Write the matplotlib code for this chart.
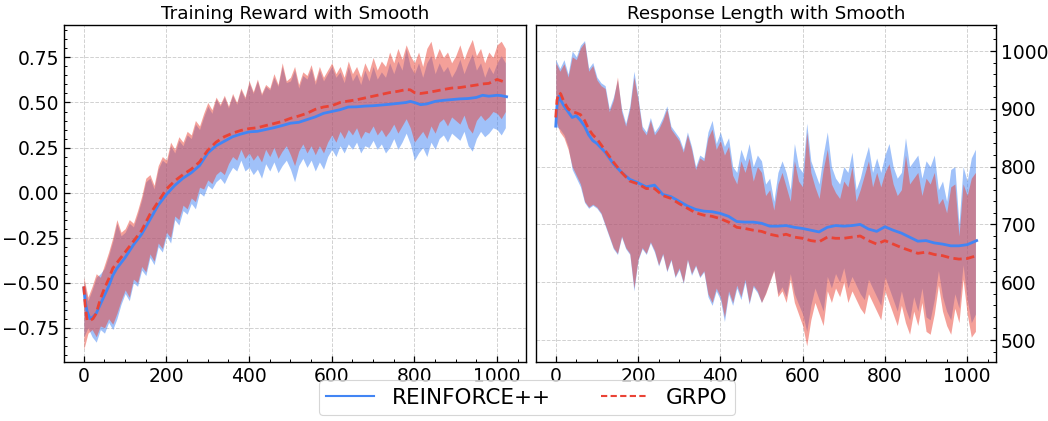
import numpy as np
import matplotlib
matplotlib.use("Agg")
import matplotlib.pyplot as plt
from matplotlib.ticker import AutoMinorLocator, MultipleLocator

# ---------------- data ----------------
env_steps = np.arange(0, 1021, 10)

# Left panel: training reward
left_mean_steps = [0, 3, 8, 15, 22, 30, 40, 50, 60, 70, 80, 90, 100, 120, 140, 160, 180, 200, 220, 240,
                   260, 280, 300, 320, 340, 360, 380, 400, 420, 440, 460, 480, 500, 520, 540, 560, 580, 600,
                   620, 640, 660, 680, 700, 720, 740, 760, 780, 790, 800, 815, 830, 850, 870, 890, 910, 930,
                   950, 965, 980, 1000, 1010, 1023]
left_blue_mean = [-0.53, -0.60, -0.66, -0.70, -0.69, -0.67, -0.62, -0.57, -0.52, -0.46, -0.42, -0.39, -0.36,
                  -0.29, -0.23, -0.15, -0.07, -0.01, 0.04, 0.08, 0.11, 0.15, 0.22, 0.26, 0.285, 0.31, 0.325,
                  0.337, 0.34, 0.35, 0.36, 0.372, 0.385, 0.39, 0.405, 0.42, 0.44, 0.45, 0.46, 0.475, 0.476,
                  0.48, 0.482, 0.486, 0.49, 0.495, 0.50, 0.506, 0.50, 0.488, 0.492, 0.506, 0.512, 0.516, 0.52,
                  0.522, 0.528, 0.54, 0.535, 0.54, 0.538, 0.532]
left_red_mean = [-0.52, -0.62, -0.71, -0.71, -0.70, -0.67, -0.59, -0.53, -0.48, -0.42, -0.39, -0.36, -0.33,
                 -0.27, -0.21, -0.12, -0.05, 0.02, 0.065, 0.10, 0.13, 0.17, 0.235, 0.28, 0.31, 0.33, 0.345,
                 0.355, 0.36, 0.372, 0.383, 0.395, 0.412, 0.425, 0.44, 0.462, 0.475, 0.482, 0.50, 0.508, 0.515,
                 0.525, 0.535, 0.545, 0.555, 0.562, 0.572, 0.57, 0.555, 0.55, 0.555, 0.563, 0.572, 0.58, 0.583,
                 0.59, 0.597, 0.603, 0.606, 0.628, 0.62, 0.61]

left_red_up = [-0.47, -0.58, -0.52, -0.45, -0.47, -0.40, -0.33, -0.25, -0.15, -0.22,
               -0.20, -0.15, -0.17, -0.10, -0.02, 0.08, 0.10, 0.04, 0.15, 0.20,
               0.18, 0.28, 0.24, 0.31, 0.28, 0.34, 0.32, 0.40, 0.37, 0.44,
               0.50, 0.46, 0.53, 0.49, 0.54, 0.48, 0.55, 0.50, 0.58, 0.53,
               0.62, 0.56, 0.63, 0.55, 0.60, 0.58, 0.66, 0.60, 0.72, 0.62,
               0.64, 0.70, 0.60, 0.67, 0.65, 0.71, 0.62, 0.70, 0.64, 0.68,
               0.72, 0.66, 0.70, 0.64, 0.73, 0.66, 0.70, 0.64, 0.72, 0.67,
               0.75, 0.68, 0.73, 0.70, 0.78, 0.72, 0.80, 0.74, 0.82, 0.76,
               0.72, 0.78, 0.70, 0.80, 0.84, 0.74, 0.80, 0.75, 0.78, 0.72,
               0.76, 0.82, 0.74, 0.80, 0.85, 0.76, 0.80, 0.72, 0.78, 0.75,
               0.82, 0.84, 0.80]
left_blue_up = [-0.50, -0.60, -0.54, -0.47, -0.45, -0.42, -0.35, -0.27, -0.17, -0.24,
                -0.22, -0.17, -0.19, -0.12, -0.04, 0.06, 0.08, 0.02, 0.13, 0.18,
                0.16, 0.26, 0.22, 0.29, 0.26, 0.32, 0.30, 0.38, 0.35, 0.42,
                0.48, 0.44, 0.52, 0.48, 0.53, 0.47, 0.54, 0.49, 0.57, 0.52,
                0.61, 0.55, 0.62, 0.54, 0.59, 0.57, 0.64, 0.59, 0.70, 0.61,
                0.62, 0.68, 0.58, 0.65, 0.63, 0.69, 0.60, 0.68, 0.62, 0.66,
                0.70, 0.64, 0.67, 0.61, 0.70, 0.62, 0.66, 0.60, 0.68, 0.62,
                0.70, 0.63, 0.67, 0.64, 0.72, 0.66, 0.73, 0.68, 0.80, 0.70,
                0.66, 0.72, 0.64, 0.72, 0.76, 0.66, 0.72, 0.67, 0.70, 0.64,
                0.68, 0.74, 0.66, 0.72, 0.77, 0.68, 0.72, 0.64, 0.70, 0.66,
                0.72, 0.76, 0.72]
left_blue_lo = [-0.80, -0.75, -0.80, -0.83, -0.76, -0.78, -0.72, -0.76, -0.70, -0.62,
                -0.56, -0.60, -0.50, -0.52, -0.43, -0.46, -0.36, -0.40, -0.30, -0.33,
                -0.24, -0.28, -0.15, -0.18, -0.10, -0.12, -0.06, -0.09, 0.00, -0.02,
                0.04, 0.02, 0.06, 0.08, 0.05, 0.10, 0.14, 0.12, 0.18, 0.12,
                0.14, 0.10, 0.13, 0.08, 0.16, 0.12, 0.17, 0.11, 0.15, 0.18,
                0.13, 0.06, 0.15, 0.19, 0.14, 0.18, 0.12, 0.17, 0.13, 0.20,
                0.24, 0.20, 0.26, 0.22, 0.27, 0.24, 0.28, 0.22, 0.26, 0.25,
                0.29, 0.24, 0.27, 0.22, 0.25, 0.30, 0.24, 0.28, 0.33, 0.27,
                0.18, 0.22, 0.25, 0.20, 0.28, 0.24, 0.30, 0.32, 0.28, 0.33,
                0.31, 0.29, 0.34, 0.26, 0.23, 0.30, 0.34, 0.31, 0.33, 0.36,
                0.35, 0.32, 0.36]
left_red_lo = [-0.87, -0.78, -0.76, -0.80, -0.74, -0.75, -0.70, -0.73, -0.67, -0.60,
               -0.54, -0.58, -0.48, -0.50, -0.41, -0.44, -0.34, -0.38, -0.28, -0.31,
               -0.22, -0.25, -0.13, -0.15, -0.07, -0.09, -0.03, -0.05, 0.03, 0.02,
               0.07, 0.05, 0.10, 0.12, 0.10, 0.16, 0.20, 0.18, 0.24, 0.19,
               0.22, 0.18, 0.21, 0.17, 0.24, 0.20, 0.25, 0.19, 0.23, 0.26,
               0.21, 0.15, 0.23, 0.27, 0.22, 0.26, 0.21, 0.26, 0.22, 0.28,
               0.32, 0.28, 0.34, 0.30, 0.35, 0.32, 0.36, 0.30, 0.34, 0.33,
               0.37, 0.32, 0.35, 0.31, 0.34, 0.38, 0.33, 0.37, 0.41, 0.36,
               0.28, 0.31, 0.34, 0.30, 0.37, 0.33, 0.39, 0.41, 0.37, 0.42,
               0.40, 0.38, 0.43, 0.36, 0.33, 0.40, 0.43, 0.40, 0.42, 0.45,
               0.44, 0.41, 0.45]

# Right panel: response length
right_mean_steps = [0, 3, 8, 12, 20, 30, 40, 50, 60, 70, 80, 90, 100, 120, 140, 160, 180, 200, 220, 240,
                    260, 280, 300, 320, 340, 360, 380, 400, 420, 440, 460, 480, 500, 520, 540, 560, 580, 600,
                    620, 640, 660, 680, 700, 720, 740, 760, 780, 800, 820, 840, 860, 880, 900, 920, 940, 960,
                    980, 1000, 1023]
right_blue_mean = [870, 905, 922, 915, 905, 895, 885, 888, 880, 870, 855, 845, 840, 825, 805, 790, 778, 772,
                   765, 768, 752, 748, 740, 732, 726, 723, 722, 719, 714, 705, 704, 704, 702, 697, 697, 698,
                   695, 693, 690, 687, 695, 698, 697, 698, 700, 692, 688, 696, 690, 685, 678, 671, 672, 668,
                   666, 663, 663, 665, 672]
right_red_mean = [885, 915, 928, 926, 912, 900, 895, 893, 890, 880, 865, 855, 848, 828, 808, 790, 775, 770,
                  762, 762, 750, 745, 736, 728, 720, 716, 714, 710, 704, 695, 693, 690, 688, 683, 680, 683,
                  678, 676, 672, 670, 678, 676, 676, 678, 680, 672, 666, 672, 666, 660, 655, 650, 652, 648,
                  646, 642, 640, 641, 646]

right_blue_up = [985, 970, 985, 960, 1000, 990, 1010, 1018, 970, 980,
                 955, 945, 940, 900, 920, 950, 900, 875, 905, 965,
                 920, 870, 860, 885, 860, 870, 885, 905, 870, 860,
                 850, 830, 860, 835, 800, 820, 815, 860, 880, 840,
                 860, 835, 850, 800, 790, 830, 810, 840, 800, 820,
                 810, 770, 780, 740, 790, 810, 790, 760, 840, 800,
                 790, 875, 810, 790, 770, 820, 860, 800, 780, 770,
                 800, 790, 825, 760, 780, 810, 835, 790, 815, 790,
                 820, 840, 800, 780, 790, 850, 800, 810, 820, 780,
                 810, 800, 820, 760, 775, 740, 795, 800, 700, 800,
                 775, 815, 830]
right_red_up = [980, 965, 978, 955, 990, 985, 1005, 1015, 965, 975,
                950, 940, 935, 895, 915, 955, 895, 870, 900, 955,
                915, 865, 855, 880, 855, 865, 880, 900, 865, 855,
                845, 825, 855, 830, 795, 815, 810, 850, 865, 830,
                845, 820, 835, 785, 770, 810, 790, 815, 775, 800,
                790, 750, 760, 725, 770, 790, 765, 740, 810, 775,
                765, 860, 790, 765, 745, 795, 830, 770, 755, 745,
                775, 765, 800, 740, 760, 785, 810, 765, 790, 765,
                790, 805, 770, 750, 760, 820, 770, 780, 790, 750,
                780, 770, 790, 735, 745, 720, 765, 770, 680, 770,
                750, 780, 790]
right_red_lo = [880, 860, 850, 830, 800, 785, 770, 740, 730, 735,
                730, 720, 700, 680, 660, 650, 680, 660, 650, 590,
                640, 660, 650, 670, 655, 630, 650, 620, 640, 610,
                625, 600, 640, 615, 630, 610, 620, 580, 565, 590,
                575, 540, 585, 565, 595, 575, 605, 565, 595, 585,
                565, 580, 600, 620, 575, 585, 565, 605, 565, 545,
                525, 490, 535, 565, 545, 525, 585, 565, 590, 575,
                600, 565, 585, 570, 555, 545, 580, 565, 550, 535,
                585, 565, 545, 525, 560, 530, 510, 550, 525, 565,
                515, 510, 545, 595, 550, 525, 510, 555, 530, 605,
                545, 505, 515]
right_blue_lo = [870, 865, 855, 835, 795, 780, 765, 738, 728, 733,
                 728, 718, 698, 678, 658, 648, 678, 658, 648, 585,
                 638, 658, 648, 668, 652, 628, 648, 618, 638, 608,
                 622, 598, 638, 612, 628, 608, 618, 575, 560, 585,
                 570, 532, 580, 560, 590, 570, 600, 562, 592, 582,
                 565, 582, 602, 622, 580, 592, 575, 615, 580, 562,
                 545, 515, 560, 590, 570, 550, 610, 590, 615, 600,
                 625, 590, 610, 595, 580, 570, 605, 590, 575, 560,
                 610, 590, 570, 550, 585, 555, 535, 575, 550, 590,
                 540, 535, 570, 620, 575, 550, 535, 580, 555, 630,
                 570, 530, 545]

titles = ["Training Reward with Smooth", "Response Length with Smooth"]
labels = ["REINFORCE++", "GRPO"]

# ---------------- style ----------------
BLUE = "#4285F4"
RED = "#EA4335"
FILL_ALPHA = 0.5

plt.rcParams["font.family"] = ["DejaVu Sans"]

fig = plt.figure(figsize=(10.48, 4.21), dpi=100)
axL = fig.add_axes([64 / 1048, 1 - 362 / 421, 462 / 1048, 337 / 421])
axR = fig.add_axes([536 / 1048, 1 - 362 / 421, 460 / 1048, 337 / 421])

panels = [
    (axL, left_mean_steps, left_blue_mean, left_red_mean, left_blue_up, left_blue_lo, left_red_up, left_red_lo),
    (axR, right_mean_steps, right_blue_mean, right_red_mean, right_blue_up, right_blue_lo, right_red_up, right_red_lo),
]

for i, (ax, ms, bm, rm, bu, bl, ru, rl) in enumerate(panels):
    ax.fill_between(env_steps, bl, bu, color=BLUE, alpha=FILL_ALPHA, linewidth=0, zorder=2)
    ax.fill_between(env_steps, rl, ru, color=RED, alpha=FILL_ALPHA, linewidth=0, zorder=3)
    lb, = ax.plot(ms, bm, color=BLUE, lw=2.0, zorder=5, label=labels[0])
    lr, = ax.plot(ms, rm, color=RED, lw=2.0, ls=(0, (3, 1.6)), zorder=6, label=labels[1])
    ax.set_title(titles[i], fontsize=13.2, pad=4)
    ax.grid(True, ls="--", lw=0.7, color="#cccccc", alpha=0.9, zorder=0)
    ax.set_axisbelow(True)
    ax.xaxis.set_major_locator(MultipleLocator(200))
    ax.xaxis.set_minor_locator(AutoMinorLocator(4))
    ax.yaxis.set_minor_locator(AutoMinorLocator(5))
    ax.tick_params(axis="both", which="major", direction="in", length=4.5, width=0.9, labelsize=13.5)
    ax.tick_params(axis="both", which="minor", direction="in", length=2.5, width=0.7)
    ax.tick_params(axis="x", which="both", top=False, bottom=True)
    for sp in ax.spines.values():
        sp.set_linewidth(1.0)

axL.set_xlim(-48, 1070)
axL.set_ylim(-0.94, 0.93)
axL.yaxis.set_major_locator(MultipleLocator(0.25))
axL.tick_params(axis="y", which="both", left=True, right=False)

axR.set_xlim(-48, 1070)
axR.set_ylim(462, 1045)
axR.yaxis.set_major_locator(MultipleLocator(100))
axR.yaxis.tick_right()
axR.tick_params(axis="y", which="both", left=False, right=True)

handles = [lb, lr]
leg = fig.legend(handles, labels, loc="lower center", bbox_to_anchor=(0.503, -0.012), ncol=2,
                 fontsize=15.5, frameon=True, handlelength=2.2, handletextpad=0.85, columnspacing=2.3,
                 borderpad=0.35, fancybox=True)
leg.get_frame().set_edgecolor("#cccccc")
leg.get_frame().set_linewidth(0.8)
for h in leg.get_lines():
    h.set_linewidth(1.5)

fig.savefig("out.png", dpi=100)
